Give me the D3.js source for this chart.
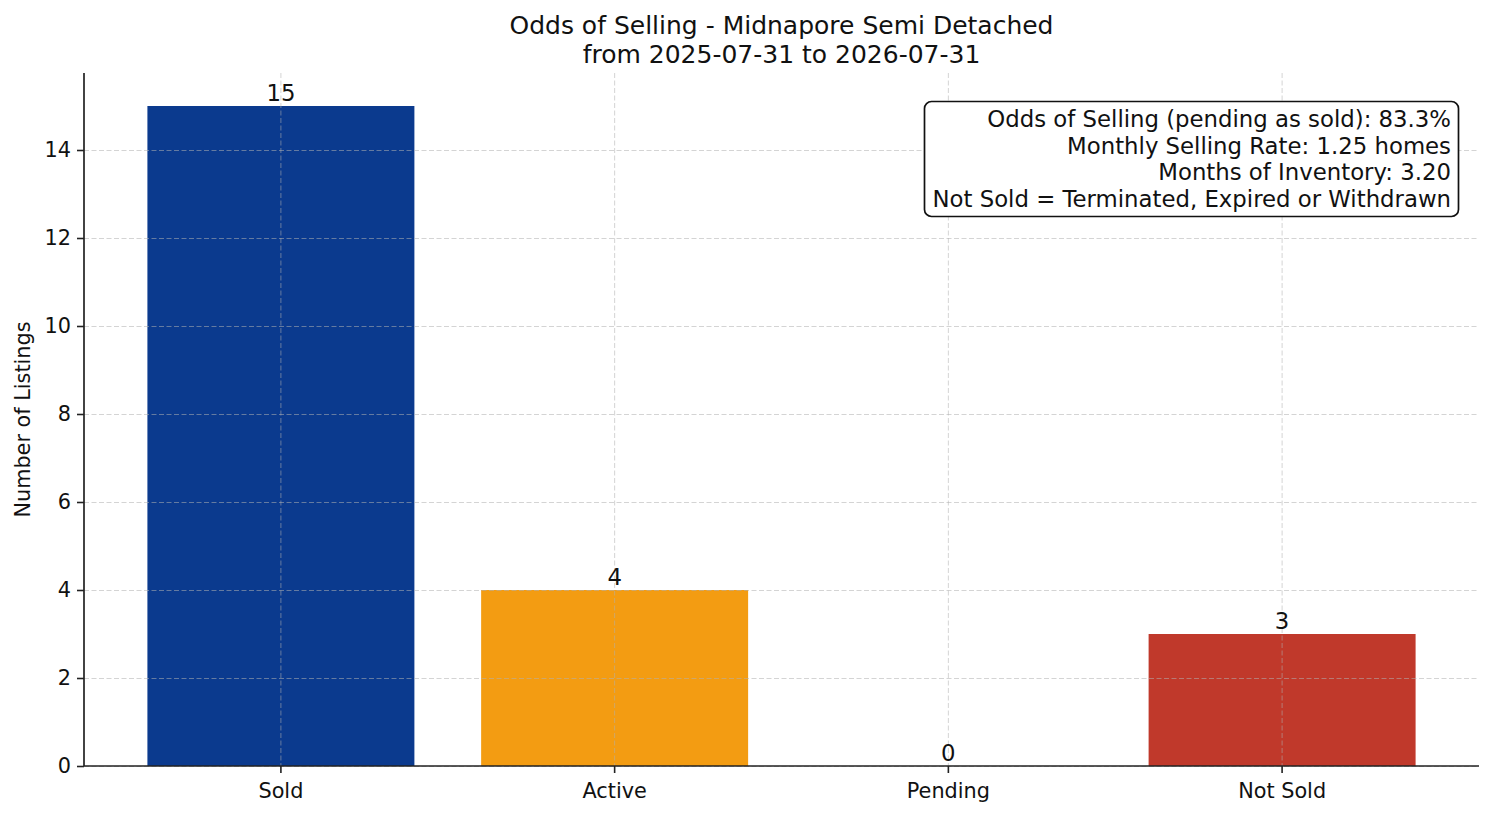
<!DOCTYPE html>
<html>
<head>
<meta charset="utf-8">
<script src="https://cdn.jsdelivr.net/npm/d3@7/dist/d3.min.js"></script>
<style>
  html, body { margin: 0; padding: 0; background: #fff; }
  svg { display: block; font-family: "DejaVu Sans", sans-serif; }
</style>
</head>
<body>
<svg id="chart" width="1494" height="816"></svg>
<script>
const categories = ["Sold", "Active", "Pending", "Not Sold"];
const values = [15, 4, 0, 3];
const barColors = ["#0b3a8e", "#f39c12", "#f39c12", "#c0392b"];
const yTicks = [0, 2, 4, 6, 8, 10, 12, 14];
const titleLines = ["Odds of Selling - Midnapore Semi Detached", "from 2025-07-31 to 2026-07-31"];
const infoLines = [
  "Odds of Selling (pending as sold): 83.3%",
  "Monthly Selling Rate: 1.25 homes",
  "Months of Inventory: 3.20",
  "Not Sold = Terminated, Expired or Withdrawn"
];
const yLabel = "Number of Listings";
const yMax = 15.75;

const svg = d3.select("#chart");
const L = 84, R = 1479, T = 73, B = 766;

const x = d3.scaleBand().domain(categories).range([L, R]).paddingInner(0.2).paddingOuter(0.19);
const y = d3.scaleLinear().domain([0, yMax]).range([B, T]);
const colorOf = d3.scaleOrdinal().domain(categories).range(barColors);

// bars
svg.append("g").selectAll("rect").data(categories).join("rect")
  .attr("x", d => x(d))
  .attr("width", x.bandwidth())
  .attr("y", (d, i) => y(values[i]))
  .attr("height", (d, i) => y(0) - y(values[i]))
  .attr("fill", d => colorOf(d));

// grid (on top of bars, like matplotlib default)
const grid = svg.append("g").attr("stroke", "#b0b0b0").attr("stroke-opacity", 0.55)
  .attr("stroke-width", 1).attr("stroke-dasharray", "5,2.5").attr("fill", "none");
grid.selectAll("line.h").data(yTicks).join("line").attr("class", "h")
  .attr("x1", L).attr("x2", R).attr("y1", d => y(d) + 0.5).attr("y2", d => y(d) + 0.5);
grid.selectAll("line.v").data(categories).join("line").attr("class", "v")
  .attr("y1", T).attr("y2", B).attr("x1", d => x(d) + x.bandwidth() / 2).attr("x2", d => x(d) + x.bandwidth() / 2);

// axes
const yAxis = d3.axisLeft(y).tickValues(yTicks).tickSize(7).tickPadding(6).tickFormat(d3.format("d"));
const gy = svg.append("g").attr("transform", `translate(${L},0)`).call(yAxis);
gy.select(".domain").attr("stroke", "#222").attr("stroke-width", 1.7).attr("d", `M0,${B}V${T}`);
gy.selectAll(".tick line").attr("stroke", "#222").attr("stroke-width", 1.6);
gy.selectAll(".tick text").attr("font-size", 20.8).attr("fill", "#111").attr("font-family", "DejaVu Sans");

const xAxis = d3.axisBottom(x).tickSize(7).tickPadding(10);
const gx = svg.append("g").attr("transform", `translate(0,${B})`).call(xAxis);
gx.select(".domain").attr("stroke", "#222").attr("stroke-width", 1.7).attr("d", `M${L},0H${R}`);
gx.selectAll(".tick line").attr("stroke", "#222").attr("stroke-width", 1.6);
gx.selectAll(".tick text").attr("font-size", 20.8).attr("fill", "#111").attr("font-family", "DejaVu Sans");

// value labels
svg.append("g").selectAll("text").data(categories).join("text")
  .attr("x", d => x(d) + x.bandwidth() / 2)
  .attr("y", (d, i) => y(values[i]) - 5)
  .attr("text-anchor", "middle")
  .attr("font-size", 22.8).attr("fill", "#111")
  .text((d, i) => values[i]);

// title
svg.append("g").selectAll("text").data(titleLines).join("text")
  .attr("x", (L + R) / 2).attr("y", (d, i) => 34 + i * 28.5)
  .attr("text-anchor", "middle").attr("font-size", 25).attr("fill", "#111")
  .text(d => d);

// y label
svg.append("text")
  .attr("transform", `translate(30,${(T + B) / 2}) rotate(-90)`)
  .attr("text-anchor", "middle").attr("font-size", 20.8).attr("fill", "#111")
  .text(yLabel);

// info box
svg.append("rect").attr("x", 924.5).attr("y", 101.5).attr("width", 534).attr("height", 115)
  .attr("rx", 7).attr("fill", "#fff").attr("stroke", "#111").attr("stroke-width", 1.7);
svg.append("g").selectAll("text").data(infoLines).join("text")
  .attr("x", 1451).attr("y", (d, i) => 127 + i * 26.6)
  .attr("text-anchor", "end").attr("font-size", 22.8).attr("fill", "#111")
  .text(d => d);
</script>
</body>
</html>
